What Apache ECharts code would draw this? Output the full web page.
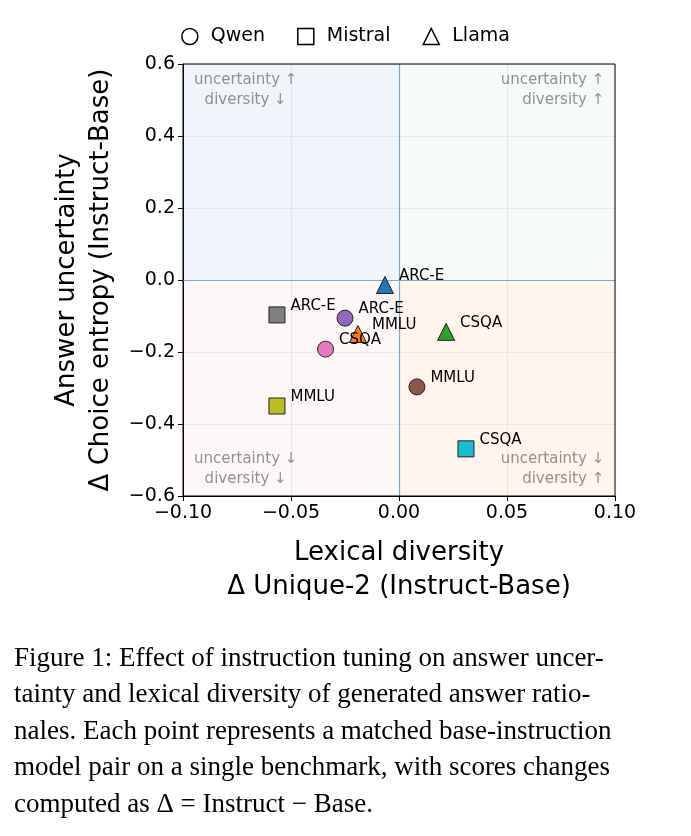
<!DOCTYPE html>
<html><head><meta charset="utf-8">
<script src="https://cdn.jsdelivr.net/npm/echarts@6/dist/echarts.min.js"></script>
<style>body{margin:0;background:#fff}#c{width:691px;height:836px}</style>
</head><body><div id="c"></div>
<script>
var models = ['Qwen', 'Mistral', 'Llama'];
var symbols = ['circle', 'rect', 'triangle'];
var qwenPts = [['ARC-E', -0.025, -0.106, '#9467bd'], ['CSQA', -0.034, -0.192, '#e377c2'], ['MMLU', 0.0083, -0.297, '#8c564b']];
var mistralPts = [['ARC-E', -0.0565, -0.097, '#7f7f7f'], ['MMLU', -0.0565, -0.35, '#bcbd22'], ['CSQA', 0.031, -0.469, '#17becf']];
var llamaPts = [['ARC-E', -0.0065, -0.014, '#1f77b4'], ['MMLU', -0.019, -0.15, '#ff7f0e'], ['CSQA', 0.0218, -0.144, '#2ca02c']];
var quadNotes = [
  [-0.071, 0.527, 'uncertainty ↑\ndiversity ↓', 'center'],
  [0.095, 0.527, 'uncertainty ↑\ndiversity ↑', 'right'],
  [-0.071, -0.524, 'uncertainty ↓\ndiversity ↓', 'center'],
  [0.095, -0.524, 'uncertainty ↓\ndiversity ↑', 'right']
];
var caption = ['Figure 1: Effect of instruction tuning on answer uncer-',
  'tainty and lexical diversity of generated answer ratio-',
  'nales. Each point represents a matched base-instruction',
  'model pair on a single benchmark, with scores changes',
  'computed as Δ = Instruct − Base.'];

var font = 'DejaVu Sans';
function mk(name, sym, pts) {
  return {
    name: name, type: 'scatter', symbol: sym, symbolSize: sym == 'triangle' ? 17 : 16, z: 5,
    data: pts.map(function (p) {
      return { value: [p[1], p[2]], name: p[0], itemStyle: { color: p[3] } };
    }),
    itemStyle: { borderColor: '#222', borderWidth: 1, opacity: 1 },
    label: { show: true, position: 'right', offset: [0, -9], formatter: '{b}', color: '#000', fontSize: 15, fontFamily: font }
  };
}
var series = [mk('Qwen', 'circle', qwenPts), mk('Mistral', 'rect', mistralPts), mk('Llama', 'triangle', llamaPts)];
series.push({
  type: 'scatter', symbolSize: 0, silent: true, z: 1,
  data: quadNotes.map(function (q) {
    return { value: [q[0], q[1]], label: { align: q[3] } };
  }),
  label: { show: true, position: 'inside', color: '#777', fontSize: 15, lineHeight: 20, fontFamily: font,
    formatter: function (p) { return quadNotes[p.dataIndex][2]; } },
  markArea: {
    silent: true,
    data: [
      [{ coord: [-0.1, 0], itemStyle: { color: 'rgba(31,119,180,0.07)' } }, { coord: [0, 0.6] }],
      [{ coord: [0, 0], itemStyle: { color: 'rgba(44,160,44,0.04)' } }, { coord: [0.1, 0.6] }],
      [{ coord: [-0.1, -0.6], itemStyle: { color: 'rgba(214,120,100,0.05)' } }, { coord: [0, 0] }],
      [{ coord: [0, -0.6], itemStyle: { color: 'rgba(255,127,14,0.08)' } }, { coord: [0.1, 0] }]
    ]
  },
  markLine: {
    silent: true, symbol: 'none', label: { show: false },
    lineStyle: { color: '#7fa6c9', type: 'solid', width: 1.2 },
    data: [{ xAxis: 0 }, { yAxis: 0 }]
  }
});

function fmt(d) { return function (v) { return v.toFixed(d).replace('-', '−'); }; }

var myChart = echarts.init(document.getElementById('c'));
myChart.setOption({
  animation: false,
  grid: { left: 183, right: 76, top: 64, height: 432 },
  legend: {
    top: 22, left: 'center', itemGap: 32, itemWidth: 16, itemHeight: 16,
    data: models.map(function (m, i) { return { name: m, icon: symbols[i] }; }),
    itemStyle: { color: '#fff', borderColor: '#000', borderWidth: 1.5 },
    textStyle: { fontSize: 19, fontFamily: font, color: '#000', padding: [0, 0, 0, 8] }
  },
  xAxis: {
    type: 'value', min: -0.1, max: 0.1, interval: 0.05,
    name: 'Lexical diversity\nΔ Unique-2 (Instruct-Base)', nameLocation: 'middle', nameGap: 40,
    nameTextStyle: { fontSize: 26, fontFamily: font, color: '#000', lineHeight: 34, verticalAlign: 'top' },
    axisLine: { onZero: false, lineStyle: { color: '#000' } },
    axisTick: { show: true, length: 5, lineStyle: { color: '#000' } },
    axisLabel: { fontSize: 19, fontFamily: font, color: '#000', formatter: fmt(2) },
    splitLine: { show: true, lineStyle: { color: '#eee' } }
  },
  yAxis: {
    type: 'value', min: -0.6, max: 0.6, interval: 0.2,
    name: 'Answer uncertainty\nΔ Choice entropy (Instruct-Base)', nameLocation: 'middle', nameGap: 52,
    nameTextStyle: { fontSize: 26, fontFamily: font, color: '#000', lineHeight: 34, verticalAlign: 'bottom' },
    axisLine: { show: true, onZero: false, lineStyle: { color: '#000' } },
    axisTick: { show: true, length: 5, lineStyle: { color: '#000' } },
    axisLabel: { fontSize: 19, fontFamily: font, color: '#000', formatter: fmt(1) },
    splitLine: { show: true, lineStyle: { color: '#eee' } }
  },
  graphic: [{
    type: 'rect', shape: { x: 183, y: 64, width: 432, height: 432 }, silent: true, z: 100,
    style: { fill: 'none', stroke: '#000', lineWidth: 1 }
  }].concat(caption.map(function (t, i) {
    return { type: 'text', left: 14, top: 645 + i * 36.5,
      style: { text: t, font: '27px "Liberation Serif", "DejaVu Serif", serif', fill: '#000' } };
  })),
  series: series
});
</script></body></html>
